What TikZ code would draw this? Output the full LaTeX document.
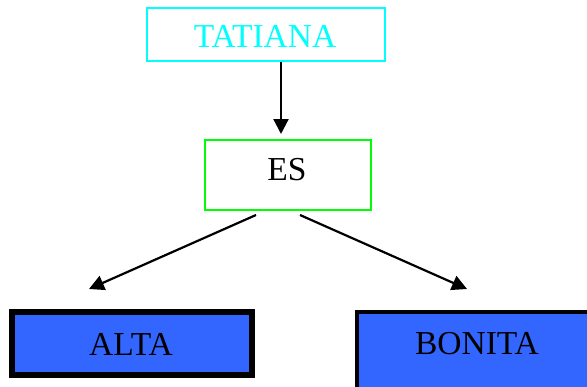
\documentclass[tikz,border=0pt]{standalone}
\usepackage{fontspec}
\setmainfont{Liberation Serif}
\usetikzlibrary{arrows.meta}
\definecolor{boxblue}{HTML}{3366FF}
\definecolor{cyanc}{HTML}{00FFFF}
\definecolor{greenc}{HTML}{00FF00}
\tikzset{
  lbl/.style={font=\fontsize{33.5}{36}\selectfont, inner sep=0pt, anchor=center},
  conn/.style={line width=2.2pt, -{Triangle[length=15pt,width=15pt]}},
}
\begin{document}
\begin{tikzpicture}[x=1pt,y=-1pt]
\useasboundingbox (0,0) rectangle (587,386);
% boxes
\draw[cyanc, line width=1.6pt] (146.75,7.75) rectangle (385.25,61.25);
\node[lbl, text=cyanc] (tatiana) at (265,36) {TATIANA};
\draw[greenc, line width=1.6pt] (204.75,139.75) rectangle (371.25,210.25);
\node[lbl] (es) at (287,169.5) {ES};
\draw[black, fill=boxblue, line width=6pt] (12,312) rectangle (252,375);
\node[lbl] (alta) at (131,344.5) {ALTA};
\draw[black, fill=boxblue, line width=4pt] (357,312) rectangle (600,400);
\node[lbl] (bonita) at (477,343.5) {BONITA};
% connector ends
\coordinate (a1) at (281,62);
\coordinate (a2) at (281,134);
\coordinate (b1) at (256,215);
\coordinate (b2) at (89,289);
\coordinate (c1) at (300,215);
\coordinate (c2) at (467,289);
\draw[conn] (a1) -- (a2);
\draw[conn] (b1) -- (b2);
\draw[conn] (c1) -- (c2);
\end{tikzpicture}
\end{document}
